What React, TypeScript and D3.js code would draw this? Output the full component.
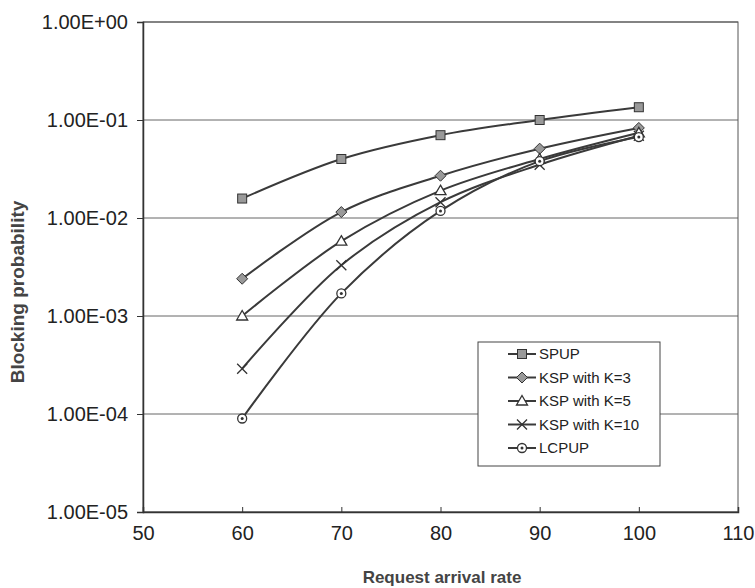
import { useEffect, useRef } from 'react';
import * as d3 from 'd3';

// request arrival rate
const rates = [60, 70, 80, 90, 100];

// blocking probability per scheme
const spup = [0.0158, 0.04, 0.07, 0.1, 0.135];
const ksp3 = [0.0024, 0.0115, 0.027, 0.051, 0.083];
const ksp5 = [0.001, 0.0058, 0.019, 0.04, 0.074];
const ksp10 = [0.00029, 0.0033, 0.0145, 0.035, 0.069];
const lcpup = [0.00009, 0.0017, 0.0118, 0.038, 0.067];

const seriesNames = ['SPUP', 'KSP with K=3', 'KSP with K=5', 'KSP with K=10', 'LCPUP'];
const seriesValues = [spup, ksp3, ksp5, ksp10, lcpup];
const markers = ['square', 'diamond', 'triangle', 'cross', 'circle'];

const xTicks = [50, 60, 70, 80, 90, 100, 110];
const yTicks = [1, 1e-1, 1e-2, 1e-3, 1e-4, 1e-5];

export default function App() {
  const ref = useRef<SVGSVGElement | null>(null);

  useEffect(() => {
    if (!ref.current) return;
    const svg = d3.select(ref.current);
    svg.selectAll('*').remove();

    const W = 755, H = 588;
    const m = { left: 143, right: 17, top: 22, bottom: 76 };
    const x = d3.scaleLinear().domain([50, 110]).range([m.left, W - m.right]);
    const y = d3.scaleLog().domain([1e-5, 1]).range([H - m.bottom, m.top]);
    const font = 'Liberation Sans, Arial, sans-serif';
    const ink = '#333';

    svg.append('rect').attr('width', W).attr('height', H).attr('fill', '#fff');

    // horizontal grid
    svg.append('g')
      .selectAll('line')
      .data(yTicks)
      .enter()
      .append('line')
      .attr('x1', m.left)
      .attr('x2', W - m.right)
      .attr('y1', d => y(d))
      .attr('y2', d => y(d))
      .attr('stroke', '#666')
      .attr('stroke-width', 1);

    // frame
    svg.append('rect')
      .attr('x', m.left)
      .attr('y', m.top)
      .attr('width', W - m.right - m.left)
      .attr('height', H - m.bottom - m.top)
      .attr('fill', 'none')
      .attr('stroke', '#555')
      .attr('stroke-width', 1);

    // y axis
    const yAxis = d3.axisLeft(y)
      .tickValues(yTicks)
      .tickSize(6)
      .tickFormat(d => {
        const e = Math.round(Math.log10(d as number));
        const s = e < 0 ? '-' : '+';
        return `1.00E${s}${String(Math.abs(e)).padStart(2, '0')}`;
      });
    const gy = svg.append('g').attr('transform', `translate(${m.left},0)`).call(yAxis);
    gy.select('.domain').attr('stroke', ink).attr('stroke-width', 1.5);
    gy.selectAll('.tick line').attr('stroke', ink);
    gy.selectAll('.tick text')
      .attr('x', -15)
      .attr('fill', '#222')
      .style('font-family', font)
      .style('font-size', '20px');

    // x axis
    const xAxis = d3.axisBottom(x).tickValues(xTicks).tickSize(-5).tickFormat(d3.format('d'));
    const gx = svg.append('g').attr('transform', `translate(0,${H - m.bottom})`).call(xAxis);
    gx.select('.domain').attr('stroke', ink).attr('stroke-width', 1.5);
    gx.selectAll('.tick line').attr('stroke', ink);
    gx.selectAll('.tick text')
      .attr('y', 14)
      .attr('fill', '#222')
      .style('font-family', font)
      .style('font-size', '20px');

    // axis titles
    svg.append('text')
      .attr('x', 442)
      .attr('y', H - 5)
      .attr('text-anchor', 'middle')
      .attr('fill', '#444')
      .style('font-family', font)
      .style('font-size', '17px')
      .style('font-weight', 'bold')
      .text('Request arrival rate');

    svg.append('text')
      .attr('transform', `translate(24,292) rotate(-90)`)
      .attr('text-anchor', 'middle')
      .attr('fill', '#444')
      .style('font-family', font)
      .style('font-size', '19px')
      .style('font-weight', 'bold')
      .text('Blocking probability');

    const line = d3.line<number>()
      .x((d, i) => x(rates[i]))
      .y(d => y(d))
      .curve(d3.curveCatmullRom.alpha(0.5));

    const drawMarker = (g: any, type: string, cx: number, cy: number) => {
      if (type === 'square') {
        g.append('rect').attr('x', cx - 4.5).attr('y', cy - 4.5).attr('width', 9).attr('height', 9)
          .attr('fill', '#999').attr('stroke', '#333').attr('stroke-width', 1);
      } else if (type === 'diamond') {
        g.append('path').attr('d', `M${cx},${cy - 5.5}L${cx + 5.5},${cy}L${cx},${cy + 5.5}L${cx - 5.5},${cy}Z`)
          .attr('fill', '#999').attr('stroke', '#333').attr('stroke-width', 1);
      } else if (type === 'triangle') {
        g.append('path').attr('d', `M${cx},${cy - 5.5}L${cx + 5.5},${cy + 4}L${cx - 5.5},${cy + 4}Z`)
          .attr('fill', '#fff').attr('stroke', '#333').attr('stroke-width', 1.3);
      } else if (type === 'cross') {
        g.append('path').attr('d', `M${cx - 5},${cy - 5}L${cx + 5},${cy + 5}M${cx - 5},${cy + 5}L${cx + 5},${cy - 5}`)
          .attr('stroke', '#333').attr('stroke-width', 1.3);
      } else {
        g.append('circle').attr('cx', cx).attr('cy', cy).attr('r', 4.5)
          .attr('fill', '#fff').attr('stroke', '#333').attr('stroke-width', 1.3);
        g.append('circle').attr('cx', cx).attr('cy', cy).attr('r', 1.5).attr('fill', '#333');
      }
    };

    seriesValues.forEach((vals, si) => {
      svg.append('path')
        .attr('d', line(vals))
        .attr('fill', 'none')
        .attr('stroke', '#3a3a3a')
        .attr('stroke-width', 2);
      const g = svg.append('g');
      vals.forEach((v, i) => drawMarker(g, markers[si], x(rates[i]), y(v)));
    });

    // legend
    const lx = 478, ly = 342, lw = 182, lh = 124, step = 23.5;
    const lg = svg.append('g');
    lg.append('rect').attr('x', lx).attr('y', ly).attr('width', lw).attr('height', lh)
      .attr('fill', '#fff').attr('stroke', '#444').attr('stroke-width', 1);
    seriesNames.forEach((name, i) => {
      const cy = ly + 12 + i * step;
      lg.append('line').attr('x1', lx + 30).attr('x2', lx + 58).attr('y1', cy).attr('y2', cy)
        .attr('stroke', '#3a3a3a').attr('stroke-width', 2);
      drawMarker(lg, markers[i], lx + 44, cy);
      lg.append('text')
        .attr('x', lx + 61)
        .attr('y', cy)
        .attr('dy', '0.35em')
        .attr('fill', '#222')
        .style('font-family', font)
        .style('font-size', '15px')
        .text(name);
    });
  }, []);

  return (
    <svg ref={ref} width={755} height={588} style={{ position: 'absolute', left: 0, top: 0 }} />
  );
}
